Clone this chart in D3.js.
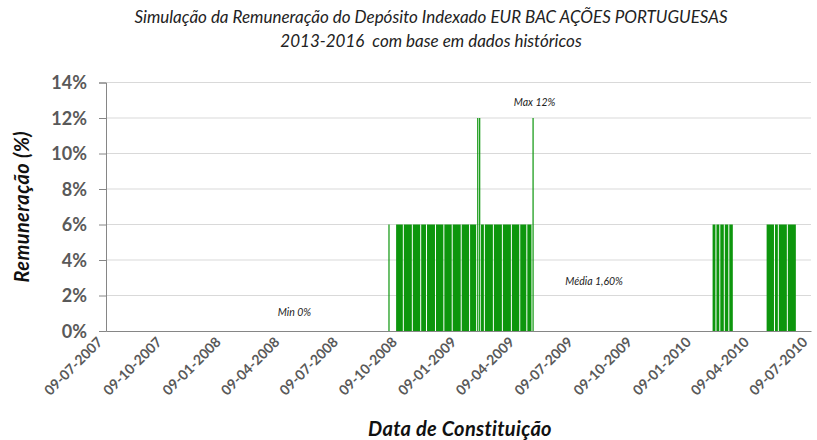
<!DOCTYPE html>
<html>
<head>
<meta charset="utf-8">
<script src="https://cdn.jsdelivr.net/npm/d3@7"></script>
<style>
  body { margin: 0; background: #fff; }
  svg { display: block; }
</style>
</head>
<body>
<div id="chart"></div>
<script>
// Tick labels of the date axis (every 3 months)
var tickLabels = ["09-07-2007", "09-10-2007", "09-01-2008", "09-04-2008", "09-07-2008",
  "09-10-2008", "09-01-2009", "09-04-2009", "09-07-2009", "09-10-2009",
  "09-01-2010", "09-04-2010", "09-07-2010"];

var yTicks = [0, 2, 4, 6, 8, 10, 12, 14];

// Remuneration per constitution period (start, end, value in %)
var barStart = ["2008-09-20", "2008-10-02", "2008-10-14", "2008-10-28", "2008-11-10", "2008-11-19",
  "2008-12-03", "2008-12-16", "2008-12-29", "2009-01-12", "2009-01-25", "2009-02-05",
  "2009-02-08", "2009-02-11", "2009-02-17", "2009-03-03", "2009-03-17", "2009-03-31",
  "2009-04-13", "2009-04-24", "2009-05-02",
  "2010-02-06", "2010-02-12", "2010-02-18", "2010-02-25", "2010-03-04",
  "2010-05-01", "2010-05-14", "2010-05-20", "2010-06-03"];
var barEnd = ["2008-09-22", "2008-10-14", "2008-10-28", "2008-11-10", "2008-11-19", "2008-12-03",
  "2008-12-16", "2008-12-29", "2009-01-12", "2009-01-25", "2009-02-05", "2009-02-08",
  "2009-02-11", "2009-02-17", "2009-03-03", "2009-03-17", "2009-03-31", "2009-04-13",
  "2009-04-24", "2009-05-02", "2009-05-04",
  "2010-02-12", "2010-02-18", "2010-02-25", "2010-03-04", "2010-03-11",
  "2010-05-14", "2010-05-20", "2010-06-03", "2010-06-17"];
var barValue = [6, 6, 6, 6, 6, 6,
  6, 6, 6, 6, 6, 12,
  12, 6, 6, 6, 6, 6,
  6, 6, 12,
  6, 6, 6, 6, 6,
  6, 6, 6, 6];

// Text notes on the chart
var noteLabels = ["Max 12%", "Média 1,60%", "Min 0%"];
var noteDates = ["2009-04-03", "2009-06-22", "2008-04-01"];
var noteValues = [12.7, 2.6, 0.85];

var width = 817, height = 440;
var plotLeft = 106, plotRight = 811, plotTop = 82.5, plotBottom = 331;

var parseTick = d3.timeParse("%d-%m-%Y");
var parseIso = d3.timeParse("%Y-%m-%d");

var x = d3.scaleTime()
  .domain([parseTick(tickLabels[0]), parseTick(tickLabels[tickLabels.length - 1])])
  .range([plotLeft, plotRight]);

var y = d3.scaleLinear()
  .domain([0, 14])
  .range([plotBottom, plotTop]);

var font = "Lato, 'Open Sans', sans-serif";

var svg = d3.select("#chart")
  .append("svg")
  .attr("width", width)
  .attr("height", height);

// Title
svg.append("text")
  .attr("x", 431).attr("y", 23)
  .attr("text-anchor", "middle")
  .style("font-family", font).style("font-style", "italic")
  .style("font-size", "17px").style("fill", "#222")
  .text("Simulação da Remuneração do Depósito Indexado EUR BAC AÇÕES PORTUGUESAS");
svg.append("text")
  .attr("x", 431).attr("y", 47)
  .attr("text-anchor", "middle")
  .style("font-family", font).style("font-style", "italic")
  .style("font-size", "17px").style("fill", "#222")
  .style("white-space", "pre")
  .text("2013-2016  com base em dados históricos");

// Grid lines
svg.append("g")
  .selectAll("line")
  .data(yTicks.slice(1))
  .enter()
  .append("line")
  .attr("x1", plotLeft).attr("x2", plotRight)
  .attr("y1", function (d) { return y(d); })
  .attr("y2", function (d) { return y(d); })
  .attr("stroke", "#d9d9d9").attr("stroke-width", 1);

// Y axis
var yAxis = d3.axisLeft(y)
  .tickValues(yTicks)
  .tickSize(7)
  .tickPadding(12)
  .tickFormat(function (d) { return d + "%"; });

var gy = svg.append("g")
  .attr("transform", "translate(" + plotLeft + ",0)")
  .call(yAxis);
gy.select(".domain").attr("stroke", "#868686");
gy.selectAll(".tick line").attr("stroke", "#868686");
gy.selectAll(".tick text")
  .attr("dy", "0.35em")
  .style("font-family", font).style("font-weight", "bold")
  .style("font-size", "18px").style("fill", "#595959");

// Bars
svg.append("g")
  .selectAll("rect")
  .data(barValue)
  .enter()
  .append("rect")
  .attr("x", function (d, i) { return x(parseIso(barStart[i])); })
  .attr("width", function (d, i) {
    return Math.max(1.2, x(parseIso(barEnd[i])) - x(parseIso(barStart[i])) - 1);
  })
  .attr("y", function (d) { return y(d); })
  .attr("height", function (d) { return y(0) - y(d); })
  .attr("fill", "#0d960d");

// X axis
var xAxis = d3.axisBottom(x)
  .tickValues(tickLabels.map(parseTick))
  .tickSize(0)
  .tickFormat(function (d, i) { return tickLabels[i]; });

var gx = svg.append("g")
  .attr("transform", "translate(0," + plotBottom + ")")
  .call(xAxis);
gx.select(".domain").attr("stroke", "#868686");
gx.selectAll(".tick text")
  .attr("text-anchor", "end")
  .attr("dy", null)
  .attr("y", 0)
  .attr("transform", "translate(-3,12) rotate(-45)")
  .style("font-family", font).style("font-weight", "bold")
  .style("font-size", "14px").style("fill", "#595959");

// Axis titles
svg.append("text")
  .attr("transform", "translate(29," + ((plotTop + plotBottom) / 2) + ") rotate(-90)")
  .attr("text-anchor", "middle")
  .style("font-family", font).style("font-weight", "bold").style("font-style", "italic")
  .style("font-size", "20px").style("letter-spacing", "0.4px").style("fill", "#111")
  .text("Remuneração (%)");

svg.append("text")
  .attr("x", 460).attr("y", 436)
  .attr("text-anchor", "middle")
  .style("font-family", font).style("font-weight", "bold").style("font-style", "italic")
  .style("font-size", "20px").style("letter-spacing", "0.3px").style("fill", "#111")
  .text("Data de Constituição");

// Notes
svg.append("g")
  .selectAll("text")
  .data(noteLabels)
  .enter()
  .append("text")
  .attr("x", function (d, i) { return x(parseIso(noteDates[i])); })
  .attr("y", function (d, i) { return y(noteValues[i]); })
  .style("font-family", font).style("font-style", "italic")
  .style("font-size", "10.5px").style("fill", "#222")
  .text(function (d) { return d; });
</script>
</body>
</html>
